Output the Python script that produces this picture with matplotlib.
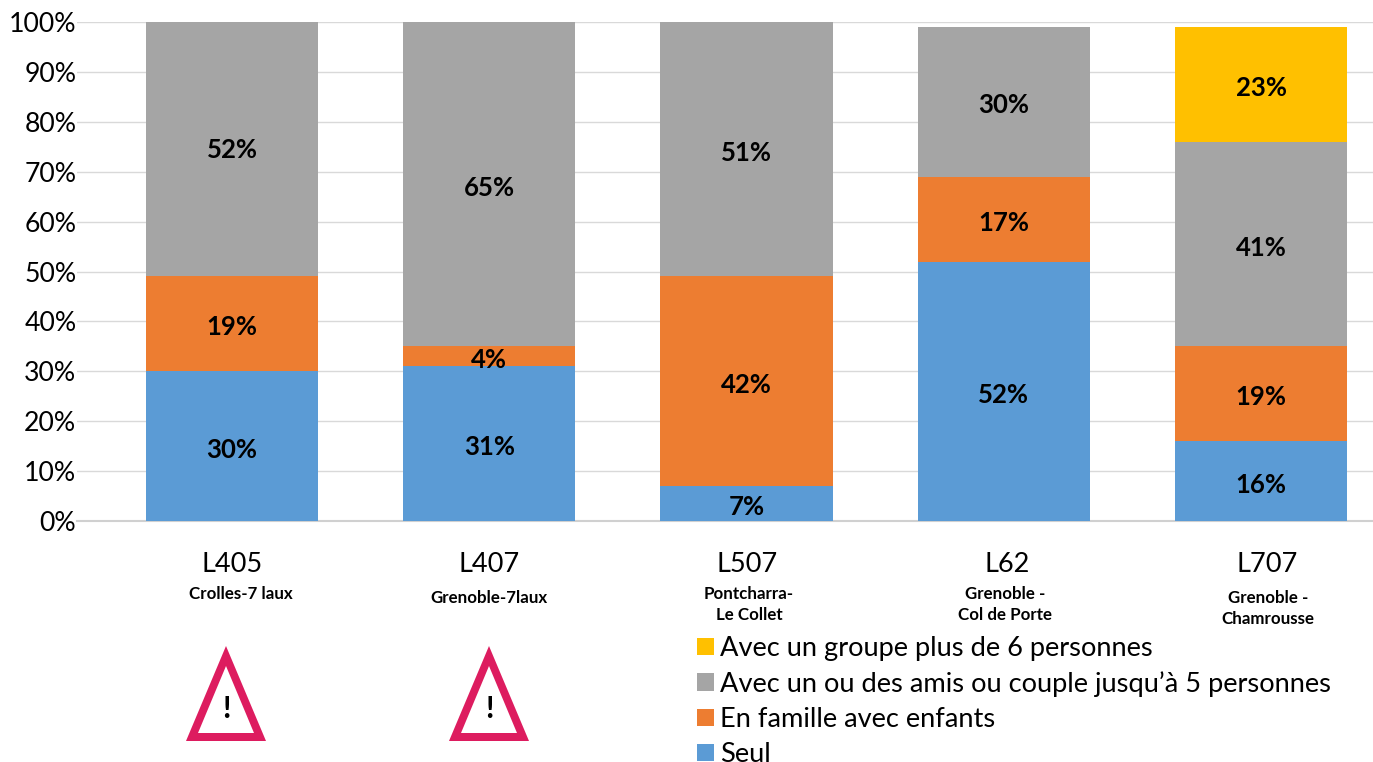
import matplotlib
matplotlib.use('Agg')
import matplotlib.pyplot as plt
from matplotlib.patches import Polygon
import numpy as np

plt.rcParams['font.family'] = ['Lato', 'DejaVu Sans']

lines = ['L405', 'L407', 'L507', 'L62', 'L707']
places = ['Crolles-7 laux', 'Grenoble-7laux', 'Pontcharra-\nLe Collet', 'Grenoble -\nCol de Porte', 'Grenoble -\nChamrousse']
seul = np.array([30, 31, 7, 52, 16])
famille = np.array([19, 4, 42, 17, 19])
amis = np.array([52, 65, 51, 30, 41])
groupe = np.array([0, 0, 0, 0, 23])
yticks = list(range(0, 101, 10))

series = [
    ('Seul', seul, '#5b9bd5'),
    ('En famille avec enfants', famille, '#ed7d31'),
    ('Avec un ou des amis ou couple jusqu\u2019\u00e0 5 personnes', amis, '#a5a5a5'),
    ('Avec un groupe plus de 6 personnes', groupe, '#ffc000'),
]

W, H = 1373, 762
fig = plt.figure(figsize=(W / 100, H / 100), dpi=100)
ax = fig.add_axes([77 / W, 1 - 521 / H, (1373 - 77) / W, (521 - 22) / H])

# pixel position -> figure fraction
def px(x, y):
    return x / W, 1 - y / H

x = np.arange(len(lines))
bottom = np.zeros(len(lines))
for name, vals, color in series:
    ax.bar(x, vals, bottom=bottom, width=0.669, color=color, label=name, zorder=3)
    for xi, b, v in zip(x, bottom, vals):
        if v > 0:
            ax.text(xi, b + v / 2 - 0.7, f'{v}%', ha='center', va='center', fontsize=18.5,
                    fontweight='bold', color='black', zorder=4)
    bottom = bottom + vals

ax.set_xlim(-0.6025, 4.435)
ax.set_ylim(0, 100)
ax.set_yticks(yticks)
ax.set_yticklabels([f'{t}%' for t in yticks], fontsize=19.2)
ax.set_xticks([])
ax.tick_params(axis='y', length=0, pad=0.5)
ax.grid(axis='y', color='#d9d9d9', lw=1, zorder=0)
for s in ['top', 'left', 'right']:
    ax.spines[s].set_visible(False)
ax.spines['bottom'].set_color('#d0d0d0')
ax.spines['bottom'].set_linewidth(1.5)

# category labels under the axis, they are not quite centred on the bars
line_x = [232, 489, 747, 1007, 1267]
place_x = [241, 489, 749, 1005, 1268]
place_y = [594, 598, 594, 594, 598]
for lx, px_x, py, line, place in zip(line_x, place_x, place_y, lines, places):
    fig.text(*px(lx, 565), line, ha='center', va='center', fontsize=19.5)
    for k, part in enumerate(place.split('\n')):
        fig.text(*px(px_x, py + 21 * k), part, ha='center', va='center', fontsize=12.2, fontweight='bold')

# warning triangles
for cx in [226, 489]:
    fig.add_artist(Polygon([px(cx - 40, 741), px(cx + 40, 741), px(cx, 646)], closed=True,
                           transform=fig.transFigure, fc='#dd1c5f', ec='none'))
    fig.add_artist(Polygon([px(cx - 28, 733), px(cx + 28, 733), px(cx, 666)], closed=True,
                           transform=fig.transFigure, fc='white', ec='none'))
    fig.text(*px(cx, 709), '!', ha='center', va='center', fontsize=22, fontweight='bold')

handles, names = ax.get_legend_handles_labels()
fig.legend(handles[::-1], names[::-1], loc='upper left', bbox_to_anchor=px(697, 636), frameon=False,
           fontsize=19.6, handlelength=0.62, handleheight=0.62, handletextpad=0.23, labelspacing=0.37,
           borderpad=0, borderaxespad=0)

fig.savefig('out.png', dpi=100)
